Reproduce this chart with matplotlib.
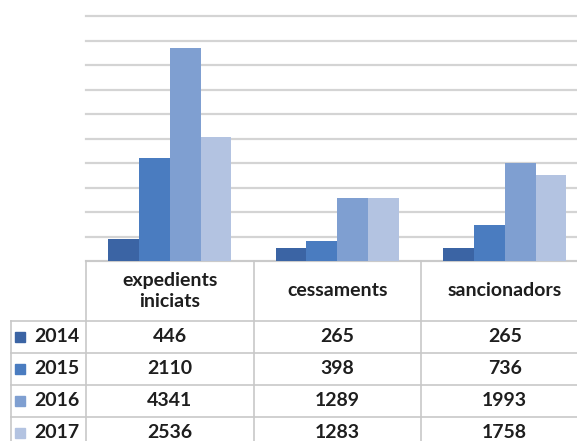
import matplotlib
matplotlib.use("Agg")
import matplotlib.pyplot as plt

# data
categories = ["expedients\niniciats", "cessaments", "sancionadors"]
years = ["2014", "2015", "2016", "2017"]
v2014 = [446, 265, 265]
v2015 = [2110, 398, 736]
v2016 = [4341, 1289, 1993]
v2017 = [2536, 1283, 1758]
series = [v2014, v2015, v2016, v2017]
colors = ["#3b64a4", "#4a7cc0", "#7f9fd1", "#b3c3e1"]

plt.rcParams["font.family"] = ["Lato", "DejaVu Sans"]

W, H = 577, 441
fig = plt.figure(figsize=(W / 100, H / 100), dpi=100)
# plot area in pixels: left 86, top 16, bottom 261, one category = 167.5 px
ax = fig.add_axes([86 / W, (H - 261) / H, 502.5 / W, 245 / H])

bar_w = 0.1836
for i, vals in enumerate(series):
    xs = [j + (i - 1.5) * bar_w for j in range(len(categories))]
    ax.bar(xs, vals, width=bar_w, color=colors[i], zorder=3)

ax.set_xlim(-0.5, 2.5)
ax.set_ylim(0, 5000)
ax.set_yticks(range(0, 5001, 500))
ax.set_xticks([])
ax.tick_params(axis="y", length=0, labelleft=False)
ax.grid(axis="y", color="#d4d4d4", linewidth=1.6, zorder=0)
for gl in ax.get_ygridlines():
    gl.set_clip_on(False)
for s in ax.spines.values():
    s.set_visible(False)

# data table below the plot
tr = ax.get_xaxis_transform()


def ay(py):
    return (261 - py) / 245


line_c = "#c8c8c8"
left_x = -0.948
right_x = 2.7
row_top = 321
row_h = 32

# header row
ax.plot([-0.5, right_x], [ay(261), ay(261)], color=line_c, lw=1.2, transform=tr, clip_on=False)
for k in range(len(years) + 1):
    y = ay(row_top + k * row_h)
    ax.plot([left_x, right_x], [y, y], color=line_c, lw=1.2, transform=tr, clip_on=False)
for x in [-0.5, 0.5, 1.5]:
    ax.plot([x, x], [ay(261), ay(460)], color=line_c, lw=1.2, transform=tr, clip_on=False)
ax.plot([left_x, left_x], [ay(row_top), ay(460)], color=line_c, lw=1.2, transform=tr, clip_on=False)

for j, cat in enumerate(categories):
    ax.text(j, ay(291), cat, transform=tr, ha="center", va="center",
            fontsize=14, fontweight="bold", color="#1e1e1e", linespacing=1.35)

for i, yr in enumerate(years):
    yc = ay(row_top + i * row_h + row_h / 2)
    ax.plot([-0.894], [yc], marker="s", markersize=6.5, color=colors[i],
            transform=tr, clip_on=False, linestyle="none")
    ax.text(-0.81, yc, yr, transform=tr, ha="left", va="center",
            fontsize=14, fontweight="bold", color="#1e1e1e")
    for j in range(len(categories)):
        ax.text(j, yc, str(series[i][j]), transform=tr, ha="center", va="center",
                fontsize=14, fontweight="bold", color="#1e1e1e")

fig.savefig("out.png", dpi=100)
